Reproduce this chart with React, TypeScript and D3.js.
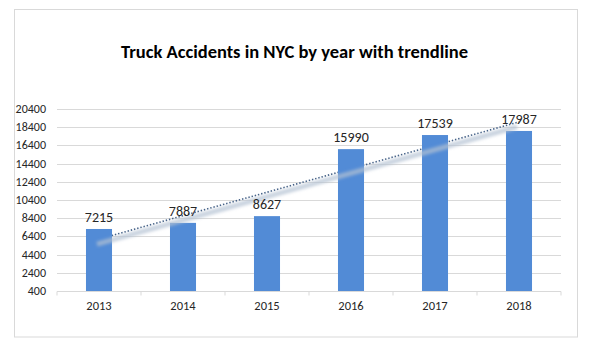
import React from "react";
import * as d3 from "d3";

const years = ["2013", "2014", "2015", "2016", "2017", "2018"];
const accidents = [7215, 7887, 8627, 15990, 17539, 17987];
const yTicks = [400, 2400, 4400, 6400, 8400, 10400, 12400, 14400, 16400, 18400, 20400];
const title = "Truck Accidents in NYC by year with trendline";

const W = 590;
const H = 357;
const FONT = "Carlito, Calibri, 'Liberation Sans', Arial, sans-serif";

export default function App() {
  const x = d3.scaleBand<string>().domain(years).range([57, 561]).paddingInner(0.69).paddingOuter(0.345);
  const y = d3.scaleLinear().domain([400, 20400]).range([291, 109]);

  // linear regression trendline
  const idx = years.map((_, i) => i);
  const mx = d3.mean(idx) as number;
  const my = d3.mean(accidents) as number;
  const sxy = d3.sum(idx, (i) => (i - mx) * (accidents[i] - my));
  const sxx = d3.sum(idx, (i) => (i - mx) * (i - mx));
  const slope = sxy / sxx;
  const icpt = my - slope * mx;
  const trendPts: [number, number][] = idx.map((i) => [
    (x(years[i]) as number) + x.bandwidth() / 2,
    y(icpt + slope * i),
  ]);
  const line = d3.line();
  const first = trendPts[0];
  const last = trendPts[trendPts.length - 1];
  const trendPath = line([first, last]) as string;
  const step = x.step();
  const boundaries = d3.range(years.length + 1).map((i) => 57 + i * step);

  return (
    <svg width={W} height={H} style={{ position: "absolute", left: 0, top: 0 }}>
      <defs>
        <filter id="blur" x="-10%" y="-50%" width="120%" height="200%">
          <feGaussianBlur stdDeviation="1.8" />
        </filter>
      </defs>
      <rect x={0} y={0} width={W} height={H} fill="#fff" />
      <rect x={14.5} y={9.5} width={563} height={327.5} fill="#fff" stroke="#d9d9d9" strokeWidth={1} />
      <text x={294.5} y={58} textAnchor="middle" fontFamily={FONT} fontWeight="bold" fontSize={18.5} fill="#000">
        {title}
      </text>
      {yTicks.map((t) => (
        <g key={t}>
          {t !== 400 && (
            <line x1={57} x2={561} y1={Math.round(y(t)) + 0.5} y2={Math.round(y(t)) + 0.5} stroke="#d9d9d9" strokeWidth={1} />
          )}
          <text x={46} y={y(t) + 4} textAnchor="end" fontFamily={FONT} fontSize={12} fill="#262626">
            {t}
          </text>
        </g>
      ))}
      <path d={trendPath} stroke="#3e5b82" strokeWidth={1.6} strokeDasharray="1.4 1.9" fill="none" />
      {years.map((yr, i) => (
        <rect
          key={yr}
          x={x(yr)}
          y={y(accidents[i])}
          width={x.bandwidth()}
          height={y(400) - y(accidents[i])}
          fill="#528bd6"
        />
      ))}
      <path
        d={trendPath}
        transform="translate(-2,5)"
        stroke="#b4c2d3"
        strokeOpacity={0.7}
        strokeWidth={5}
        fill="none"
        filter="url(#blur)"
      />
      <line x1={57} x2={561} y1={291.5} y2={291.5} stroke="#d9d9d9" strokeWidth={1} />
      {boundaries.map((b) => (
        <line key={b} x1={b} x2={b} y1={291.5} y2={295.5} stroke="#d9d9d9" strokeWidth={1} />
      ))}
      {years.map((yr, i) => (
        <text
          key={yr}
          x={(x(yr) as number) + x.bandwidth() / 2}
          y={y(accidents[i]) - 7}
          textAnchor="middle"
          fontFamily={FONT}
          fontSize={14}
          fill="#262626"
        >
          {accidents[i]}
        </text>
      ))}
      {years.map((yr) => (
        <text
          key={yr}
          x={(x(yr) as number) + x.bandwidth() / 2}
          y={310}
          textAnchor="middle"
          fontFamily={FONT}
          fontSize={12.5}
          fill="#262626"
        >
          {yr}
        </text>
      ))}
    </svg>
  );
}
